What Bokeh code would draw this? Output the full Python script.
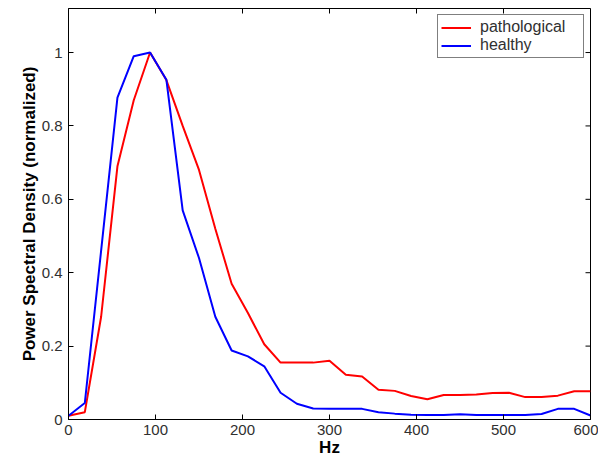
import math
from bokeh.plotting import figure
from bokeh.models import Range1d, FixedTicker, Legend, LegendItem
from bokeh.embed import file_html
from bokeh.resources import INLINE

freq = [0, 18.75, 37.5, 56.25, 75, 93.75, 112.5, 131.25, 150, 168.75, 187.5, 206.25,
        225, 243.75, 262.5, 281.25, 300, 318.75, 337.5, 356.25, 375, 393.75, 412.5,
        431.25, 450, 468.75, 487.5, 506.25, 525, 543.75, 562.5, 581.25, 600]
pathological = [0.01, 0.02, 0.28, 0.69, 0.87, 1.0, 0.925, 0.80, 0.68, 0.52, 0.37, 0.29,
                0.205, 0.155, 0.155, 0.155, 0.16, 0.122, 0.117, 0.081, 0.078, 0.064, 0.055,
                0.067, 0.067, 0.068, 0.072, 0.073, 0.061, 0.061, 0.065, 0.077, 0.077]
healthy = [0.01, 0.045, 0.46, 0.877, 0.99, 1.0, 0.926, 0.57, 0.44, 0.28, 0.188, 0.172,
           0.145, 0.073, 0.043, 0.03, 0.029, 0.029, 0.029, 0.02, 0.016, 0.013, 0.012,
           0.012, 0.014, 0.012, 0.012, 0.012, 0.012, 0.015, 0.029, 0.029, 0.011]
x_ticks = [0, 100, 200, 300, 400, 500, 600]
y_ticks = [0, 0.2, 0.4, 0.6, 0.8, 1]
X_MAX = 600
Y_MAX = 1.12

FONT = "Liberation Sans"

p = figure(width=598, height=461, output_backend="svg", toolbar_location=None,
           x_range=Range1d(0, X_MAX), y_range=Range1d(0, Y_MAX),
           min_border_left=68, min_border_right=8, min_border_top=8, min_border_bottom=42)
p.background_fill_color = "white"
p.border_fill_color = "white"
p.outline_line_color = "black"
p.outline_line_width = 1
p.grid.visible = False

for ax in (p.xaxis[0], p.yaxis[0]):
    ax.major_tick_in = 5
    ax.major_tick_out = 0
    ax.minor_tick_line_color = None
    ax.axis_line_color = "black"
    ax.major_tick_line_color = "black"
    ax.major_label_text_font = FONT
    ax.major_label_text_font_size = "15px"
    ax.major_label_text_color = "#303030"
    ax.axis_label_text_font = FONT
    ax.axis_label_text_font_size = "17px"
    ax.axis_label_text_font_style = "bold"
    ax.axis_label_text_color = "#000000"

p.xaxis[0].ticker = FixedTicker(ticks=x_ticks)
p.yaxis[0].ticker = FixedTicker(ticks=y_ticks)
p.yaxis[0].major_label_overrides = {0: "0", 1: "1"}
p.xaxis[0].axis_label = "Hz"
p.yaxis[0].axis_label = "Power Spectral Density (normalized)"
p.xaxis[0].major_label_standoff = 5
p.yaxis[0].major_label_standoff = 6
p.xaxis[0].axis_label_standoff = 0
p.yaxis[0].axis_label_standoff = 0

# inward ticks on the top and right edges of the box (clipped to the frame)
p.scatter(x_ticks, [Y_MAX] * len(x_ticks), marker="dash", angle=math.pi / 2,
          size=10, line_color="black", line_width=1)
p.scatter([X_MAX] * len(y_ticks), y_ticks, marker="dash",
          size=10, line_color="black", line_width=1)

r1 = p.line(freq, pathological, line_color="#ff0000", line_width=2)
r2 = p.line(freq, healthy, line_color="#0000ff", line_width=2)

legend = Legend(items=[LegendItem(label="pathological", renderers=[r1]),
                       LegendItem(label="healthy", renderers=[r2])],
                location="top_right")
legend.label_text_font = FONT
legend.label_text_font_size = "16px"
legend.label_text_color = "#303030"
legend.border_line_color = "black"
legend.border_line_width = 1
legend.padding = 3
legend.spacing = 0
legend.margin = 6
legend.glyph_width = 30
legend.glyph_height = 17
legend.label_height = 17
legend.label_width = 100
legend.label_standoff = 9
p.add_layout(legend)

open("out.html", "w").write(file_html(p, INLINE))
